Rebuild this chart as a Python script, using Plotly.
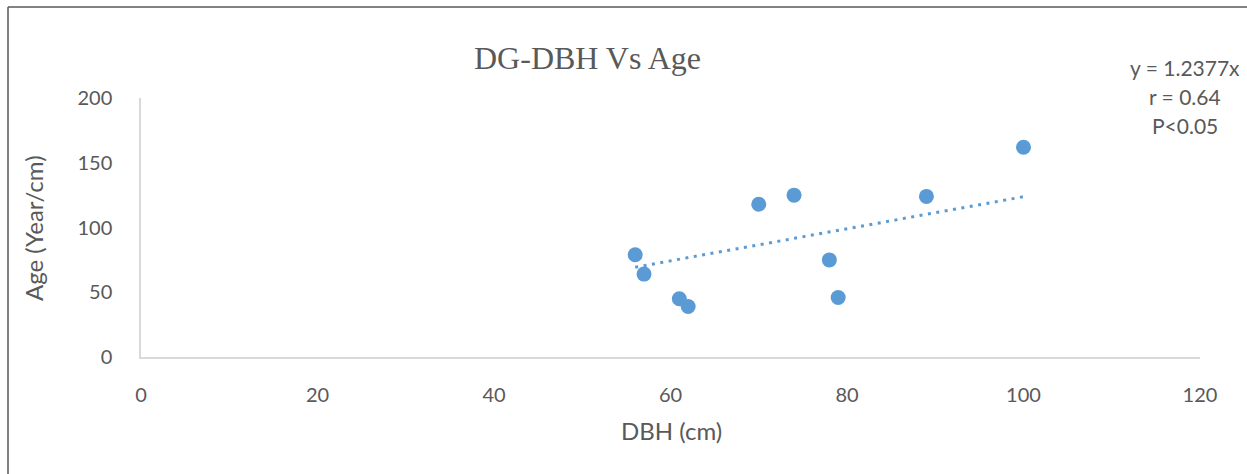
import plotly.graph_objects as go

# Data
dbh = [56, 57, 61, 62, 70, 74, 78, 79, 89, 100]
age = [79, 64, 45, 39, 118, 125, 75, 46, 124, 162]
slope = 1.2377
x_ticks = [0, 20, 40, 60, 80, 100, 120]
y_ticks = [0, 50, 100, 150, 200]

title_text = "DG-DBH Vs Age"
x_title = "DBH (cm)"
y_title = "Age (Year/cm)"
stats_lines = ["y = 1.2377x", "r = 0.64", "P<0.05"]

W, H = 1247, 474
L, R, T, B = 141, 47, 98, 117
pw, ph = W - L - R, H - T - B

def px_x(p):
    return (p - L) / pw

def px_y(p):
    return (H - B - p) / ph

blue = "#5B9BD5"
grey_txt = "#595959"
font_sans = "Lato, 'Open Sans', sans-serif"

trend_x = [min(dbh), max(dbh)]
trend_y = [slope * v for v in trend_x]

fig = go.Figure()
fig.add_trace(go.Scatter(
    x=trend_x, y=trend_y, mode="lines",
    line=dict(color=blue, width=3, dash="3px,5.5px"),
    hoverinfo="skip", showlegend=False))
fig.add_trace(go.Scatter(
    x=dbh, y=age, mode="markers",
    marker=dict(color=blue, size=15, line=dict(width=0)),
    showlegend=False))

annotations = [
    dict(text=title_text, xref="paper", yref="paper", x=px_x(587), y=px_y(58),
         xanchor="center", yanchor="middle", showarrow=False,
         font=dict(family="'Liberation Serif', 'Times New Roman', serif", size=32, color=grey_txt)),
    dict(text=x_title, xref="paper", yref="paper", x=px_x(671), y=px_y(430),
         xanchor="center", yanchor="middle", showarrow=False,
         font=dict(family=font_sans, size=24, color=grey_txt)),
    dict(text=y_title, xref="paper", yref="paper", x=px_x(33), y=px_y(228),
         xanchor="center", yanchor="middle", showarrow=False, textangle=-90,
         font=dict(family=font_sans, size=24, color=grey_txt)),
]
for i, s in enumerate(stats_lines):
    annotations.append(dict(text=s, xref="paper", yref="paper", x=px_x(1185), y=px_y(67 + 29 * i),
                            xanchor="center", yanchor="middle", showarrow=False,
                            font=dict(family=font_sans, size=21, color=grey_txt)))

fig.update_layout(
    width=W, height=H,
    margin=dict(l=L, r=R, t=T, b=B, pad=0),
    paper_bgcolor="white", plot_bgcolor="white",
    font=dict(family=font_sans, color=grey_txt, size=20),
    xaxis=dict(range=[0, 120], tickvals=x_ticks, showgrid=False, zeroline=False,
               showline=True, linecolor="#D9D9D9", linewidth=1.5, ticks="",
               ticklabelstandoff=19, tickfont=dict(size=20, color=grey_txt, family=font_sans),
               fixedrange=True),
    yaxis=dict(range=[0, 200], tickvals=y_ticks, showgrid=False, zeroline=False,
               showline=True, linecolor="#D9D9D9", linewidth=1.5, ticks="",
               ticklabelstandoff=23, tickfont=dict(size=20, color=grey_txt, family=font_sans),
               fixedrange=True),
    shapes=[
        dict(type="line", xref="paper", yref="paper",
             x0=px_x(8), x1=px_x(W + 5), y0=px_y(7), y1=px_y(7),
             line=dict(color="#595959", width=1.5)),
        dict(type="line", xref="paper", yref="paper",
             x0=px_x(8), x1=px_x(8), y0=px_y(7), y1=px_y(H + 5),
             line=dict(color="#595959", width=1.5)),
    ],
    annotations=annotations,
)

fig.write_html("out.html")
